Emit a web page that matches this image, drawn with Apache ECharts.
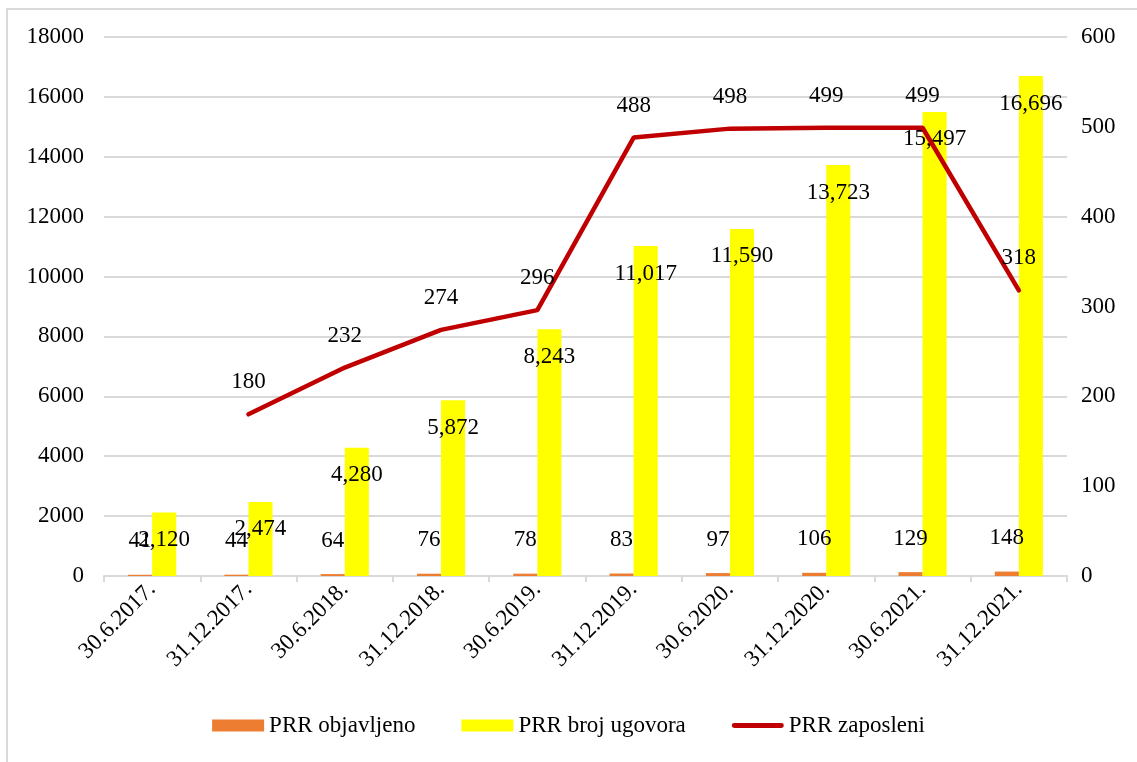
<!DOCTYPE html>
<html>
<head>
<meta charset="utf-8">
<script src="https://cdn.jsdelivr.net/npm/echarts@6/dist/echarts.min.js"></script>
<style>
  body { margin: 0; background: #fff; }
  #frame { position: absolute; left: 6px; top: 8px; width: 1140px; height: 760px; border: 2px solid #d9d9d9; box-sizing: border-box; }
  #main { position: absolute; left: 0; top: 0; width: 1137px; height: 762px; }
</style>
</head>
<body>
<div id="frame"></div>
<div id="main"></div>
<script>
// datumi
var categories = ['30.6.2017.', '31.12.2017.', '30.6.2018.', '31.12.2018.', '30.6.2019.',
                  '31.12.2019.', '30.6.2020.', '31.12.2020.', '30.6.2021.', '31.12.2021.'];
// PRR objavljeno
var objavljeno = [41, 44, 64, 76, 78, 83, 97, 106, 129, 148];
// PRR broj ugovora
var brojUgovora = [2120, 2474, 4280, 5872, 8243, 11017, 11590, 13723, 15497, 16696];
// PRR zaposleni (prva tocka nema podatka)
var zaposleni = [null, 180, 232, 274, 296, 488, 498, 499, 499, 318];

var font = 'Liberation Serif';
var fs = 23;

var myChart = echarts.init(document.getElementById('main'));

var option = {
    animation: false,
    textStyle: { fontFamily: font },
    grid: { left: 104, right: 70, top: 37, bottom: 186 },
    legend: {
        bottom: 20,
        left: 'center',
        itemGap: 46,
        itemWidth: 52,
        itemHeight: 12,
        textStyle: { fontFamily: font, fontSize: fs, color: '#000' },
        data: [
            { name: 'PRR objavljeno', icon: 'rect' },
            { name: 'PRR broj ugovora', icon: 'rect' },
            { name: 'PRR zaposleni', icon: 'path://M2,0 L50,0 A2,2 0 0 1 50,5 L2,5 A2,2 0 0 1 2,0 Z' }
        ]
    },
    xAxis: {
        type: 'category',
        data: categories,
        axisLine: { lineStyle: { color: '#d9d9d9', width: 2 } },
        axisTick: { show: true, length: 6, lineStyle: { color: '#d9d9d9', width: 2 } },
        axisLabel: { rotate: 45, margin: 10, color: '#000', fontFamily: font, fontSize: fs, interval: 0 }
    },
    yAxis: [
        {
            type: 'value', min: 0, max: 18000, interval: 2000,
            axisLine: { show: false }, axisTick: { show: false },
            splitLine: { lineStyle: { color: '#d9d9d9', width: 2 } },
            axisLabel: {
                color: '#000', fontFamily: font, fontSize: fs, margin: 20,
                formatter: function (v) { return String(v); }
            }
        },
        {
            type: 'value', min: 0, max: 600, interval: 100,
            axisLine: { show: false }, axisTick: { show: false },
            splitLine: { show: false },
            axisLabel: {
                color: '#000', fontFamily: font, fontSize: fs, margin: 14,
                formatter: function (v) { return String(v); }
            }
        }
    ],
    series: [
        {
            name: 'PRR objavljeno',
            type: 'bar',
            data: objavljeno,
            barGap: '0%',
            barCategoryGap: '50%',
            itemStyle: { color: '#ed7d31' },
            label: { show: true, position: 'top', distance: 22, color: '#000', fontFamily: font, fontSize: fs }
        },
        {
            name: 'PRR broj ugovora',
            type: 'bar',
            data: brojUgovora,
            itemStyle: { color: '#ffff00' },
            label: {
                show: true, position: 'insideTop', distance: 16, color: '#000', fontFamily: font, fontSize: fs,
                formatter: function (p) { return p.value.toLocaleString('en-US'); }
            }
        },
        {
            name: 'PRR zaposleni',
            type: 'line',
            yAxisIndex: 1,
            data: zaposleni,
            z: 5,
            symbol: 'circle',
            symbolSize: 1,
            showSymbol: true,
            lineStyle: { color: '#c00000', width: 4.5, cap: 'round' },
            itemStyle: { color: '#c00000' },
            label: { show: true, position: 'top', distance: 20, color: '#000', fontFamily: font, fontSize: fs }
        }
    ]
};

myChart.setOption(option);
</script>
</body>
</html>
